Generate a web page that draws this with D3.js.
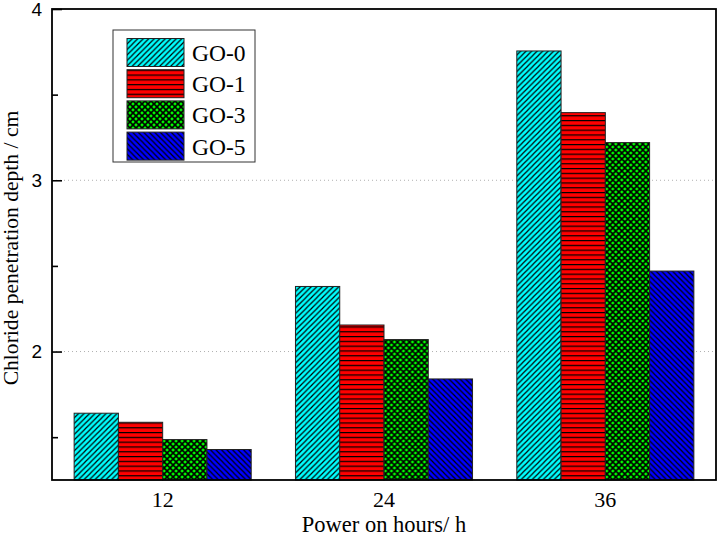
<!DOCTYPE html>
<html>
<head>
<meta charset="utf-8">
<script src="https://cdn.jsdelivr.net/npm/d3@7"></script>
<style>
  html, body { margin: 0; padding: 0; background: #fff; }
  svg { display: block; }
</style>
</head>
<body>
<svg id="chart" width="720" height="538"></svg>
<script>
// ---------- data ----------
const categories = ["12", "24", "36"];
const seriesNames = ["GO-0", "GO-1", "GO-3", "GO-5"];
const go0 = [1.64, 2.38, 3.755];
const go1 = [1.587, 2.155, 3.395];
const go3 = [1.486, 2.07, 3.22];
const go5 = [1.428, 1.84, 2.47];
const yTicksMajor = [2, 3, 4];
const yTicksMinor = [1.5, 2.5, 3.5];
const gridValues = [2, 3];
const xTitle = "Power on hours/ h";
const yTitle = "Chloride penetration depth / cm";

const seriesValues = [go0, go1, go3, go5];
const fills = ["#00ffff", "#ff0000", "#00ff00", "#0000ff"];

// ---------- layout ----------
const svg = d3.select("#chart");
const L = 52, R = 716, T = 9, B = 480;
const serif = "'Liberation Serif','Times New Roman',Times,serif";
const sans = "'Liberation Sans',Arial,Helvetica,sans-serif";

const x = d3.scaleBand().domain(categories).range([L, R]).paddingInner(0.2).paddingOuter(0.1);
const xs = d3.scaleBand().domain(seriesNames).range([0, x.bandwidth()]).padding(0);
const y = d3.scaleLinear().domain([1.25, 4]).range([B, T]);

// ---------- patterns ----------
const defs = svg.append("defs");
function pat(id, w, h, bg, paths, sw) {
  const p = defs.append("pattern").attr("id", id).attr("patternUnits", "userSpaceOnUse")
    .attr("width", w).attr("height", h);
  p.append("rect").attr("width", w).attr("height", h).attr("fill", bg);
  p.append("path").attr("d", paths).attr("stroke", "#000").attr("stroke-width", sw).attr("fill", "none");
  return "url(#" + id + ")";
}
const patFill = [
  pat("p0", 5.5, 5.5, fills[0], "M-1,6.5 L6.5,-1 M-1,1 L1,-1 M4.5,6.5 L6.5,4.5", 1.2),
  pat("p1", 4.8, 4.8, fills[1], "M0,0.6 L4.8,0.6", 1.2),
  pat("p2", 6, 6, fills[2], "M-1,-1 L7,7 M7,-1 L-1,7", 1.6),
  pat("p3", 5.5, 5.5, fills[3], "M-1,-1 L6.5,6.5 M4.5,-1 L6.5,1 M-1,4.5 L1,6.5", 1.2)
];

// ---------- grid ----------
svg.append("g").selectAll("line").data(gridValues).join("line")
  .attr("x1", L).attr("x2", R).attr("y1", d => y(d)).attr("y2", d => y(d))
  .attr("stroke", "#b0b0b0").attr("stroke-width", 1).attr("stroke-dasharray", "1,3");

// ---------- bars ----------
const groups = svg.append("g").selectAll("g").data(categories).join("g")
  .attr("transform", d => `translate(${x(d)},0)`);
groups.selectAll("rect")
  .data((c, ci) => seriesNames.map((s, si) => ({ s, si, v: seriesValues[si][ci] })))
  .join("rect")
  .attr("x", d => xs(d.s))
  .attr("width", xs.bandwidth())
  .attr("y", d => y(d.v))
  .attr("height", d => B - y(d.v))
  .attr("fill", d => patFill[d.si])
  .attr("stroke", "#222").attr("stroke-width", 1);

// ---------- frame ----------
svg.append("rect").attr("x", L).attr("y", T).attr("width", R - L).attr("height", B - T)
  .attr("fill", "none").attr("stroke", "#000").attr("stroke-width", 1.8);

// ---------- y axis ----------
const yAxis = d3.axisLeft(y).tickValues(yTicksMajor).tickFormat(d3.format("d")).tickSizeInner(-10).tickSizeOuter(0).tickPadding(10);
const gy = svg.append("g").attr("transform", `translate(${L},0)`).call(yAxis);
gy.select(".domain").remove();
gy.selectAll(".tick line").attr("stroke", "#000").attr("stroke-width", 1.6);
gy.selectAll(".tick text").attr("font-family", sans).attr("font-size", 19).attr("fill", "#000");
const yAxisMinor = d3.axisLeft(y).tickValues(yTicksMinor).tickFormat("").tickSizeInner(-6).tickSizeOuter(0);
const gym = svg.append("g").attr("transform", `translate(${L},0)`).call(yAxisMinor);
gym.select(".domain").remove();
gym.selectAll(".tick line").attr("stroke", "#000").attr("stroke-width", 1.6);

// ---------- x axis ----------
const xAxis = d3.axisBottom(x).tickSize(0).tickPadding(11.5);
const gx = svg.append("g").attr("transform", `translate(0,${B})`).call(xAxis);
gx.select(".domain").remove();
gx.selectAll(".tick text").attr("font-family", serif).attr("font-size", 22).attr("fill", "#000");

// ---------- titles ----------
svg.append("text").attr("x", (L + R) / 2).attr("y", 532).attr("text-anchor", "middle")
  .attr("font-family", serif).attr("font-size", 22.5).text(xTitle);
svg.append("text").attr("transform", `translate(18,248) rotate(-90)`).attr("text-anchor", "middle")
  .attr("font-family", serif).attr("font-size", 21.6).text(yTitle);

// ---------- legend ----------
const lg = svg.append("g");
lg.append("rect").attr("x", 113).attr("y", 30).attr("width", 142).attr("height", 132)
  .attr("fill", "#fff").attr("stroke", "#333").attr("stroke-width", 1);
const items = lg.selectAll("g").data(seriesNames).join("g")
  .attr("transform", (d, i) => `translate(127,${38.5 + i * 31.2})`);
items.append("rect").attr("width", 57).attr("height", 28)
  .attr("fill", (d, i) => patFill[i]).attr("stroke", "#222").attr("stroke-width", 1);
items.append("text").attr("x", 65).attr("y", 22.5)
  .attr("font-family", serif).attr("font-size", 23.5).attr("fill", "#000").text(d => d);
</script>
</body>
</html>
